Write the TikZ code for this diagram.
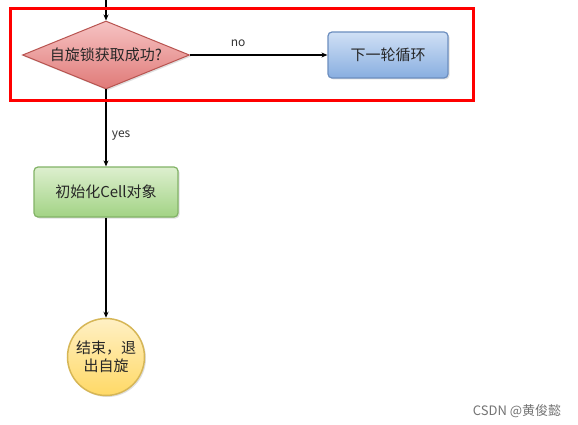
\documentclass[tikz,border=0pt]{standalone}
\usepackage{fontspec}
\setmainfont{Noto Sans CJK SC}
\usetikzlibrary{shapes.geometric,shadows,arrows.meta}
\definecolor{redtop}{HTML}{F6C3C3}
\definecolor{redbot}{HTML}{E07A78}
\definecolor{redline}{HTML}{B85450}
\definecolor{bluetop}{HTML}{D0E0F5}
\definecolor{bluebot}{HTML}{88AEE0}
\definecolor{blueline}{HTML}{6C8EBF}
\definecolor{greentop}{HTML}{DDEFCF}
\definecolor{greenbot}{HTML}{A2D384}
\definecolor{greenline}{HTML}{82B366}
\definecolor{yeltop}{HTML}{FFF0C4}
\definecolor{yelbot}{HTML}{FFD966}
\definecolor{yelline}{HTML}{D6B656}
\tikzset{
  txt/.style={font=\fontsize{15}{18}\selectfont, text=black!85},
  decision/.style={diamond, aspect=2.45, draw=redline, line width=1pt, top color=redtop, bottom color=redbot, minimum width=167pt, minimum height=68pt, inner sep=0pt, txt, drop shadow={opacity=0.25, shadow xshift=1.5pt, shadow yshift=-1.5pt}},
  bluebox/.style={rectangle, rounded corners=4pt, draw=blueline, line width=1.2pt, top color=bluetop, bottom color=bluebot, minimum width=120pt, minimum height=46pt, txt, drop shadow={opacity=0.25, shadow xshift=1.5pt, shadow yshift=-1.5pt}},
  greenbox/.style={rectangle, rounded corners=4pt, draw=greenline, line width=1.2pt, top color=greentop, bottom color=greenbot, minimum width=144pt, minimum height=50pt, txt, drop shadow={opacity=0.25, shadow xshift=1.5pt, shadow yshift=-1.5pt}},
  endcircle/.style={circle, draw=yelline, line width=1.5pt, top color=yeltop, bottom color=yelbot, minimum size=77pt, inner sep=0pt, align=center, txt, drop shadow={opacity=0.25, shadow xshift=1.5pt, shadow yshift=-1.5pt}},
  conn/.style={draw=black, line width=1.1pt, -{Stealth[length=6pt,width=5pt]}},
  lbl/.style={font=\fontsize{12}{14}\selectfont, text=black!80},
}
\begin{document}
\begin{tikzpicture}[x=1pt,y=-1pt]
\useasboundingbox[fill=white] (0,0) rectangle (578,425);
\node[decision] (d) at (106,55) {自旋锁获取成功?};
\coordinate (top) at (106,0);
\node[bluebox] (next) at (388,55) {下一轮循环};
\node[greenbox] (init) at (106,192) {初始化Cell对象};
\node[endcircle] (end) at (106,357) {结束，退\\出自旋};
\draw[conn] (top) -- (d.north);
\draw[conn] (d.east) -- node[lbl, above, pos=0.35, yshift=4pt] {no} (next.west);
\draw[conn] (d.south) -- node[lbl, right, xshift=2pt, yshift=-8pt] {yes} (init.north);
\draw[conn] (init.south) -- (end.north);
\node[draw=red, line width=3pt, minimum width=463pt, minimum height=92pt, inner sep=0pt] (frame) at (241.5,54.5) {};
\node[font=\fontsize{13}{15}\selectfont, text=black!55] (wm) at (517,411) {CSDN @黄俊懿};
\end{tikzpicture}
\end{document}
